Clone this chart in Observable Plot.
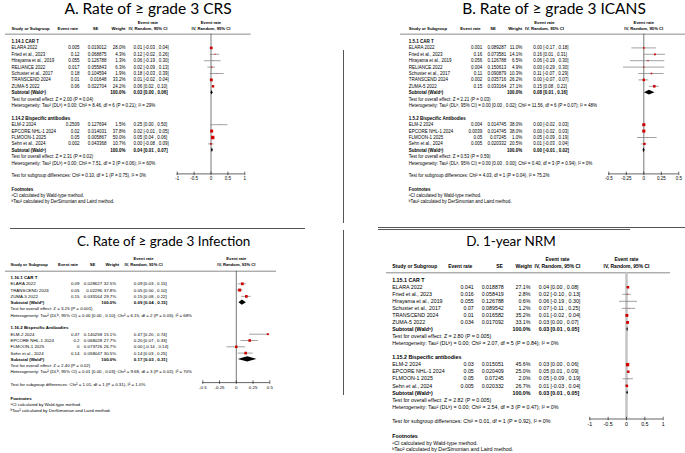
<!DOCTYPE html>
<html><head><meta charset="utf-8">
<script src="https://cdn.jsdelivr.net/npm/d3@7"></script>
<script src="https://cdn.jsdelivr.net/npm/@observablehq/plot@0.6"></script>
<style>
body{margin:0;background:#fff;}
#root{position:relative;width:685px;height:453px;overflow:hidden;background:#fff;}
.title{position:absolute;font-family:Lato,"Open Sans",sans-serif;color:#000;white-space:nowrap;transform:translateX(-50%);line-height:1;}
.pnl{position:absolute;}
.sep{position:absolute;background:#555;}
</style></head><body><div id="root"></div>
<script>
// ---------- shared labels ----------
const headerLabels = ["Study or Subgroup", "Event rate", "SE", "Weight", "Event rate", "IV, Random, 95% CI"];
const subtotalLabel = "Subtotal (Waldᵃ)";
const footTitle = "Footnotes";
const footLines = ["ᵃCI calculated by Wald-type method.", "ᵇTau² calculated by DerSimonian and Laird method."];

// ---------- Panel A: Rate of ≥ grade 3 CRS ----------
const aTitle = "A. Rate of ≥ grade 3 CRS";
const aTicks = [-1, -0.5, 0, 0.5, 1];
const aGroup1 = "1.14.1 CAR T";
const aStudies1 = ["ELARA 2022", "Fried et al., 2023", "Hirayama et al., 2019", "RELIANCE 2022", "Schuster et al., 2017", "TRANSCEND 2024", "ZUMA-5 2022"];
const aRate1 = [0.005, 0.12, 0.055, 0.017, 0.18, 0.01, 0.06];
const aSE1 = [0.019012, 0.068875, 0.126788, 0.055843, 0.104594, 0.01648, 0.022704];
const aWeight1 = [28.0, 4.3, 1.3, 6.3, 1.9, 33.2, 24.2];
const aEst1 = [0.01, 0.12, 0.06, 0.02, 0.18, 0.01, 0.06];
const aLo1 = [-0.03, -0.02, -0.19, -0.09, -0.03, -0.02, 0.02];
const aHi1 = [0.04, 0.26, 0.30, 0.13, 0.39, 0.04, 0.10];
const aSub1 = [0.03, 0.00, 0.06];
const aTest1 = "Test for overall effect: Z = 2.00 (P = 0.04)";
const aHet1 = "Heterogeneity: Tau² (DLᵇ) = 0.00; Chi² = 8.46, df = 6 (P = 0.21); I² = 29%";
const aGroup2 = "1.14.2 Bispecific antibodies";
const aStudies2 = ["ELM-2 2024", "EPCORE NHL-1 2024", "FLMOON-1 2025", "Sehn et al., 2024"];
const aRate2 = [0.2509, 0.02, 0.05, 0.002];
const aSE2 = [0.127694, 0.014031, 0.005867, 0.043368];
const aWeight2 = [1.5, 37.8, 50.0, 10.7];
const aEst2 = [0.25, 0.02, 0.05, 0.00];
const aLo2 = [0.00, -0.01, 0.04, -0.08];
const aHi2 = [0.50, 0.05, 0.06, 0.09];
const aSub2 = [0.04, 0.01, 0.07];
const aTest2 = "Test for overall effect: Z = 2.31 (P = 0.02)";
const aHet2 = "Heterogeneity: Tau² (DLᵇ) = 0.00; Chi² = 7.51, df = 3 (P = 0.06); I² = 60%";
const aDiff = "Test for subgroup differences: Chi² = 0.10, df = 1 (P = 0.75), I² = 0%";

// ---------- Panel B: Rate of ≥ grade 3 ICANS ----------
const bTitle = "B. Rate of ≥ grade 3 ICANS";
const bTicks = [-0.5, -0.25, 0, 0.25, 0.5];
const bGroup1 = "1.5.1 CAR T";
const bStudies1 = ["ELARA 2022", "Fried et al., 2023", "Hirayama et al., 2019", "RELIANCE 2022", "Schuster et al., 2017", "TRANSCEND 2024", "ZUMA-5 2022"];
const bRate1 = [0.001, 0.16, 0.056, 0.004, 0.11, 0.002, 0.15];
const bSE1 = [0.089287, 0.073581, 0.126788, 0.150613, 0.090879, 0.035716, 0.033164];
const bWeight1 = [11.0, 14.1, 6.5, 4.9, 10.3, 26.2, 27.1];
const bEst1 = [0.00, 0.16, 0.06, 0.00, 0.11, 0.00, 0.15];
const bLo1 = [-0.17, 0.01, -0.19, -0.29, -0.07, -0.07, 0.08];
const bHi1 = [0.18, 0.31, 0.30, 0.30, 0.29, 0.07, 0.22];
const bSub1 = [0.08, 0.01, 0.16];
const bTest1 = "Test for overall effect: Z = 2.21 (P = 0.03)";
const bHet1 = "Heterogeneity: Tau² (DLᵇ, 95% CI) = 0.00 [0.00 , 0.02]; Chi² = 11.56, df = 6 (P = 0.07); I² = 48%";
const bGroup2 = "1.5.2 Bispecific Antibodies";
const bStudies2 = ["ELM-2 2024", "EPCORE NHL-1 2024", "FLMOON-1 2025", "Sehn et al., 2024"];
const bRate2 = [0.004, 0.0039, 0.05, 0.005];
const bSE2 = [0.014745, 0.014745, 0.07245, 0.020332];
const bWeight2 = [38.0, 38.0, 1.0, 20.5];
const bEst2 = [0.00, 0.00, 0.05, 0.01];
const bLo2 = [-0.02, -0.02, -0.09, -0.03];
const bHi2 = [0.03, 0.03, 0.19, 0.04];
const bSub2 = [0.00, -0.01, 0.02];
const bTest2 = "Test for overall effect: Z = 0.53 (P = 0.59)";
const bHet2 = "Heterogeneity: Tau² (DLᵇ, 95% CI) = 0.00 [0.00 , 0.00]; Chi² = 0.40, df = 3 (P = 0.94); I² = 0%";
const bDiff = "Test for subgroup differences: Chi² = 4.03, df = 1 (P = 0.04), I² = 75.2%";

// ---------- Panel C: Rate of ≥ grade 3 Infection ----------
const cTitle = "C. Rate of ≥ grade 3 Infection";
const cTicks = [-0.5, -0.25, 0, 0.25, 0.5];
const cGroup1 = "1.16.1 CAR T";
const cStudies1 = ["ELARA 2022", "TRANSCEND 2024", "ZUMA-5 2022"];
const cRate1 = [0.09, 0.05, 0.15];
const cSE1 = [0.028627, 0.02296, 0.033164];
const cWeight1 = [32.5, 37.8, 29.7];
const cEst1 = [0.09, 0.05, 0.15];
const cLo1 = [0.03, 0.00, 0.08];
const cHi1 = [0.15, 0.10, 0.22];
const cSub1 = [0.09, 0.04, 0.15];
const cTest1 = "Test for overall effect: Z = 3.25 (P = 0.001)";
const cHet1 = "Heterogeneity: Tau² (DLᵇ, 95% CI) = 0.00 [0.00 , 0.10]; Chi² = 6.15, df = 2 (P = 0.05); I² = 68%";
const cGroup2 = "1.16.2 Bispecific Antibodies";
const cStudies2 = ["ELM-2 2024", "EPCORE NHL-1 2024", "FLMOON-1 2025", "Sehn et al., 2024"];
const cRate2 = [0.47, 0.2, 0, 0.14];
const cSE2 = [0.140258, 0.068028, 0.073726, 0.058047];
const cWeight2 = [15.1, 27.7, 26.7, 30.5];
const cEst2 = [0.47, 0.20, 0.00, 0.14];
const cLo2 = [0.20, 0.07, -0.14, 0.03];
const cHi2 = [0.74, 0.33, 0.14, 0.25];
const cSub2 = [0.17, 0.03, 0.31];
const cTest2 = "Test for overall effect: Z = 2.40 (P = 0.02)";
const cHet2 = "Heterogeneity: Tau² (DLᵇ, 95% CI) = 0.01 [0.00 , 0.03]; Chi² = 9.68, df = 3 (P = 0.02); I² = 70%";
const cDiff = "Test for subgroup differences: Chi² = 1.01, df = 1 (P = 0.31), I² = 1.0%";

// ---------- Panel D: 1-year NRM ----------
const dTitle = "D. 1-year NRM";
const dTicks = [-1, -0.5, 0, 0.5, 1];
const dGroup1 = "1.15.1 CAR T";
const dStudies1 = ["ELARA 2022", "Fried et al., 2023", "Hirayama et al., 2019", "Schuster et al., 2017", "TRANSCEND 2024", "ZUMA-5 2022"];
const dRate1 = [0.041, 0.016, 0.055, 0.07, 0.01, 0.034];
const dSE1 = [0.018878, 0.058419, 0.126788, 0.089542, 0.016582, 0.017092];
const dWeight1 = [27.1, 2.8, 0.6, 1.2, 35.2, 33.1];
const dEst1 = [0.04, 0.02, 0.06, 0.07, 0.01, 0.03];
const dLo1 = [0.00, -0.10, -0.19, -0.11, -0.02, 0.00];
const dHi1 = [0.08, 0.13, 0.30, 0.25, 0.04, 0.07];
const dSub1 = [0.03, 0.01, 0.05];
const dTest1 = "Test for overall effect: Z = 2.80 (P = 0.005)";
const dHet1 = "Heterogeneity: Tau² (DLᵇ) = 0.00; Chi² = 2.07, df = 5 (P = 0.84); I² = 0%";
const dGroup2 = "1.15.2 Bispecific antibodies";
const dStudies2 = ["ELM-2 2024", "EPCORE NHL-1 2024", "FLMOON-1 2025", "Sehn et al., 2024"];
const dRate2 = [0.03, 0.05, 0.05, 0.005];
const dSE2 = [0.015051, 0.020409, 0.07245, 0.020332];
const dWeight2 = [45.6, 25.0, 2.0, 26.7];
const dEst2 = [0.03, 0.05, 0.05, 0.01];
const dLo2 = [0.00, 0.01, -0.09, -0.03];
const dHi2 = [0.06, 0.09, 0.19, 0.04];
const dSub2 = [0.03, 0.01, 0.05];
const dTest2 = "Test for overall effect: Z = 2.82 (P = 0.005)";
const dHet2 = "Heterogeneity: Tau² (DLᵇ) = 0.00; Chi² = 2.54, df = 3 (P = 0.47); I² = 0%";
const dDiff = "Test for subgroup differences: Chi² = 0.01, df = 1 (P = 0.92), I² = 0%";

// ---------- builders ----------
function group(name, studies, rate, se, weight, est, lo, hi, sub, test, het) {
  return {name, studies, rate, se, weight, est, lo, hi, sub, test, het};
}
function layoutRows(groups) {
  const studies = [], subtotals = [], notes = [], heads = [];
  let r = 0;
  for (const g of groups) {
    heads.push({row: r++, t: g.name});
    g.studies.forEach((s, k) => studies.push({row: r++, study: s, rate: g.rate[k], se: g.se[k], weight: g.weight[k], est: g.est[k], lo: g.lo[k], hi: g.hi[k]}));
    subtotals.push({row: r++, est: g.sub[0], lo: g.sub[1], hi: g.sub[2]});
    notes.push({row: r++, t: g.test});
    notes.push({row: r++, t: g.het});
    r++;
  }
  return {studies, subtotals, notes, heads, axisRow: r};
}
const fmtCI = d => `${d.est.toFixed(2)} [${d.lo.toFixed(2)} , ${d.hi.toFixed(2)}]`;

function drawPanel(cfg, groups, diff, ticks, title) {
  const lay = layoutRows(groups);
  const ax = lay.axisRow;
  const X = v => v - cfg.left, Yp = v => v - cfg.top;
  const rowY = r => cfg.row0 + cfg.step * r;
  const axisLineY = rowY(ax) - 2;
  const tk = 1.75;
  const fs = cfg.fs, hfs = fs * 0.94;
  const [d0, d1] = cfg.dom;
  const dxOf = px => X(px) - X(cfg.ruleL);
  const txt = (data, text, px, anchor, extra = {}) => Plot.text(data, {y: "row", text, frameAnchor: "left", dx: dxOf(px), textAnchor: anchor, fontSize: fs, fill: "#000", ...extra});
  const hh = cfg.dh / cfg.step;
  const diamonds = lay.subtotals.flatMap(s => [
    {row: s.row, x: s.lo, y1: s.row, y2: s.row},
    {row: s.row, x: s.est, y1: s.row - hh, y2: s.row + hh},
    {row: s.row, x: s.hi, y1: s.row, y2: s.row}
  ]);
  const h1 = [{row: -3}], h2 = [{row: -2}];
  const footHead = [{row: ax + cfg.foot[0], t: footTitle}];
  const footBody = footLines.map((t, i) => ({row: ax + cfg.foot[i + 1], t}));
  const B = {fontWeight: "bold"};
  const HB = {fontWeight: "bold", fontSize: hfs};
  const svg = Plot.plot({
    width: cfg.W, height: cfg.H,
    marginLeft: X(cfg.ruleL), marginRight: cfg.W - X(cfg.ruleR),
    marginTop: Yp(rowY(cfg.ruleRow)), marginBottom: cfg.H - Yp(axisLineY - tk),
    x: {domain: cfg.dom, range: [X(cfg.fx[0]), X(cfg.fx[1])]},
    y: {domain: [0, ax], range: [Yp(rowY(0)), Yp(rowY(ax))], axis: null},
    r: {domain: [0, 50], range: [0, 1.95]},
    style: {fontFamily: "'Liberation Sans', Arial, sans-serif", fontSize: fs + "px", overflow: "visible", background: "transparent", color: "#000"},
    marks: [
      // header
      txt(h2, () => headerLabels[0], cfg.studyX, "start", HB),
      txt(h2, () => headerLabels[1], cfg.erEnd - 1.5, "end", HB),
      txt(h2, () => headerLabels[2], cfg.seHdr, "middle", HB),
      txt(h2, () => headerLabels[3], cfg.wEnd + cfg.wHdrShift, "end", HB),
      txt(h1, () => headerLabels[4], cfg.ciHdr, "middle", HB),
      txt(h2, () => headerLabels[5], cfg.ciHdr, "middle", HB),
      Plot.text(h1, {x: (d0 + d1) / 2, y: "row", text: () => headerLabels[4], fontSize: hfs, fontWeight: "bold"}),
      Plot.text(h2, {x: (d0 + d1) / 2, y: "row", text: () => headerLabels[5], fontSize: hfs, fontWeight: "bold"}),
      Plot.ruleY([cfg.ruleRow], {stroke: "#8a8a8a", strokeWidth: 1}),
      // zero line
      Plot.ruleX([0], {y1: cfg.ruleRow, y2: ax, insetBottom: 2, stroke: cfg.zeroStroke, strokeWidth: cfg.zeroW}),
      // group headings and notes
      txt(lay.heads, "t", cfg.studyX, "start", B),
      txt(lay.notes, "t", cfg.studyX, "start"),
      // study rows
      txt(lay.studies, "study", cfg.studyX, "start"),
      txt(lay.studies, d => String(d.rate), cfg.erEnd, "end"),
      txt(lay.studies, d => String(d.se), cfg.seEnd, "end"),
      txt(lay.studies, d => d.weight.toFixed(1) + "%", cfg.wEnd, "end"),
      txt(lay.studies, fmtCI, cfg.ciX, "start"),
      // subtotal rows
      txt(lay.subtotals, () => subtotalLabel, cfg.studyX, "start", B),
      txt(lay.subtotals, () => "100.0%", cfg.wEnd, "end", B),
      txt(lay.subtotals, fmtCI, cfg.ciX, "start", B),
      // forest marks
      Plot.ruleY(lay.studies, {y: "row", x1: d => Math.max(d.lo, d0), x2: d => Math.min(d.hi, d1), stroke: "#7a7a7a", strokeWidth: 0.7}),
      Plot.dot(lay.studies, {x: "est", y: "row", r: "weight", symbol: "square", fill: "#d00000"}),
      Plot.areaY(diamonds, {x: "x", y1: "y1", y2: "y2", z: "row", fill: "#000", curve: "linear"}),
      // axis
      Plot.ruleY([ax], {x1: d0, x2: d1, dy: -2, stroke: "#222", strokeWidth: 0.7}),
      Plot.axisX({ticks, tickFormat: d => String(d), tickSize: 2 * tk, tickPadding: 1.2, fontSize: fs, label: null, anchor: "bottom", stroke: "#222", strokeWidth: 0.7}),
      txt([{row: ax, t: diff}], "t", cfg.studyX, "start"),
      // footnotes
      txt(footHead, "t", cfg.studyX, "start", B),
      txt(footBody, "t", cfg.studyX, "start")
    ]
  });
  svg.classList.add("pnl");
  svg.style.left = cfg.left + "px";
  svg.style.top = cfg.top + "px";
  const root = document.getElementById("root");
  root.appendChild(svg);
  const t = document.createElement("div");
  t.className = "title";
  t.textContent = title;
  t.style.left = cfg.titleX + "px";
  t.style.top = cfg.titleTop + "px";
  t.style.fontSize = cfg.titleSize + "px";
  root.appendChild(t);
}

const foot = [2.15, 3.1, 4.05];
drawPanel({left: 0, top: 0, W: 340, H: 222, fs: 4.5, row0: 41, step: 6.4, ruleRow: -1.15, ruleL: 5, ruleR: 250.5,
  studyX: 11, erEnd: 79, seEnd: 106, seHdr: 95, wEnd: 125, wHdrShift: 0, ciX: 133, ciHdr: 147.5,
  fx: [176.7, 244.3], dom: [-1, 1], zeroStroke: "#555", zeroW: 0.8, dh: 2.3, foot,
  titleX: 148, titleTop: 1, titleSize: 15.5},
  [group(aGroup1, aStudies1, aRate1, aSE1, aWeight1, aEst1, aLo1, aHi1, aSub1, aTest1, aHet1),
   group(aGroup2, aStudies2, aRate2, aSE2, aWeight2, aEst2, aLo2, aHi2, aSub2, aTest2, aHet2)], aDiff, aTicks, aTitle);

drawPanel({left: 340, top: 0, W: 345, H: 222, fs: 4.5, row0: 41, step: 6.4, ruleRow: -1.15, ruleL: 400, ruleR: 685,
  studyX: 408.3, erEnd: 481.7, seEnd: 505.7, seHdr: 492.5, wEnd: 521.7, wHdrShift: 0, ciX: 532.7, ciHdr: 544,
  fx: [608.3, 678.3], dom: [-0.5, 0.5], zeroStroke: "#555", zeroW: 0.8, dh: 2.4, foot,
  titleX: 554, titleTop: 1, titleSize: 15.5},
  [group(bGroup1, bStudies1, bRate1, bSE1, bWeight1, bEst1, bLo1, bHi1, bSub1, bTest1, bHet1),
   group(bGroup2, bStudies2, bRate2, bSE2, bWeight2, bEst2, bLo2, bHi2, bSub2, bTest2, bHet2)], bDiff, bTicks, bTitle);

drawPanel({left: 0, top: 229, W: 340, H: 224, fs: 4.4, row0: 277, step: 6.3, ruleRow: -1.0, ruleL: 5, ruleR: 276,
  studyX: 10, erEnd: 79, seEnd: 101.7, seHdr: 92, wEnd: 115.7, wHdrShift: 3, ciX: 133.3, ciHdr: 143,
  fx: [202.3, 269.3], dom: [-0.5, 0.5], zeroStroke: "#555", zeroW: 0.8, dh: 2.6, foot,
  titleX: 163.7, titleTop: 235, titleSize: 13.5},
  [group(cGroup1, cStudies1, cRate1, cSE1, cWeight1, cEst1, cLo1, cHi1, cSub1, cTest1, cHet1),
   group(cGroup2, cStudies2, cRate2, cSE2, cWeight2, cEst2, cLo2, cHi2, cSub2, cTest2, cHet2)], cDiff, cTicks, cTitle);

drawPanel({left: 340, top: 229, W: 345, H: 224, fs: 5.3, row0: 279.7, step: 7.04, ruleRow: -1.05, ruleL: 386, ruleR: 670,
  studyX: 391.7, erEnd: 473.3, seEnd: 503.3, seHdr: 499, wEnd: 530, wHdrShift: 1.5, ciX: 538.3, ciHdr: 557,
  fx: [589.3, 662.7], dom: [-1, 1], zeroStroke: "#c4c4c4", zeroW: 2.5, dh: 2.2, foot,
  titleX: 511, titleTop: 235, titleSize: 13.5},
  [group(dGroup1, dStudies1, dRate1, dSE1, dWeight1, dEst1, dLo1, dHi1, dSub1, dTest1, dHet1),
   group(dGroup2, dStudies2, dRate2, dSE2, dWeight2, dEst2, dLo2, dHi2, dSub2, dTest2, dHet2)], dDiff, dTicks, dTitle);

// panel border fragments seen in the figure
const root = document.getElementById("root");
[[10, 228, 295, 1], [378, 227, 307, 1], [378, 229, 252, 1], [342.5, 50, 1, 173], [342.5, 230, 1, 165]].forEach(([l, t, w, h]) => {
  const s = document.createElement("div");
  s.className = "sep";
  Object.assign(s.style, {left: l + "px", top: t + "px", width: w + "px", height: h + "px"});
  root.appendChild(s);
});
</script></body></html>
